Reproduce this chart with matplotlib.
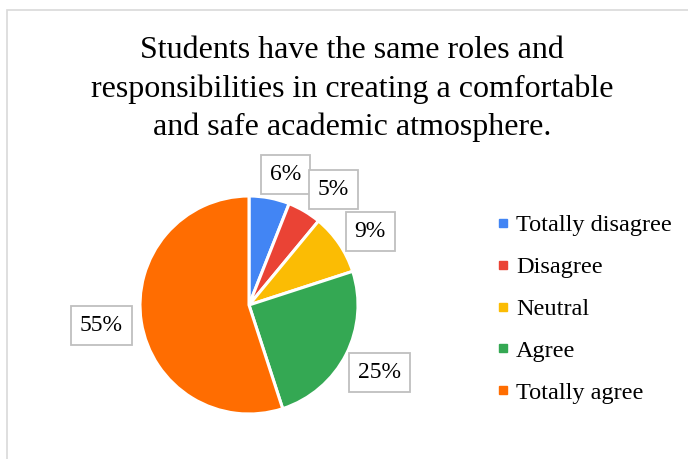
import matplotlib
matplotlib.use("Agg")
import matplotlib.pyplot as plt
import numpy as np
from matplotlib.patches import Rectangle
from matplotlib.lines import Line2D

plt.rcParams['font.family'] = ['Liberation Serif', 'DejaVu Serif']

# survey answers
categories = ['Totally disagree', 'Disagree', 'Neutral', 'Agree', 'Totally agree']
shares = [6, 5, 9, 25, 55]
colors = ['#4285F4', '#EA4335', '#FBBC04', '#34A853', '#FF6D01']
title = ('Students have the same roles and\n'
         'responsibilities in creating a comfortable\n'
         'and safe academic atmosphere.')

# callout placement (radius in pie units, angle shift in degrees)
label_r = [1.24, 1.31, 1.30, 1.35, 1.37]
label_shift = [-5, -5.5, -3, -0.5, -1]

W, H = 688, 459
fig = plt.figure(figsize=(W / 100, H / 100), dpi=100)

# outer chart frame (only left and top edges are in view)
fig.patches.append(Rectangle((7 / W, -0.05), 1.2, 1.05 - 10 / H, transform=fig.transFigure,
                             facecolor='none', edgecolor='#D9D9D9', linewidth=1.2))

cx, cy, R = 249, H - 305, 109
half = 160
ax = fig.add_axes([(cx - half) / W, (cy - half) / H, 2 * half / W, 2 * half / H])

wedges, _ = ax.pie(shares, colors=colors, startangle=90, counterclock=False,
                   radius=1.0, wedgeprops=dict(edgecolor='white', linewidth=2.2))
lim = half / R
ax.set_xlim(-lim, lim)
ax.set_ylim(-lim, lim)
ax.set_aspect('equal')
ax.axis('off')

for w, val, r, sh in zip(wedges, shares, label_r, label_shift):
    mid = np.deg2rad((w.theta1 + w.theta2) / 2 + sh)
    x, y = r * np.cos(mid), r * np.sin(mid)
    ax.text(x, y, f'{val}%', ha='center', va='center', fontsize=17, color='#000000',
            bbox=dict(boxstyle='square,pad=0.38', facecolor='white', edgecolor='#BFBFBF',
                      linewidth=1.3), zorder=5)
    # small pointer from box toward the slice
    amid = np.deg2rad((w.theta1 + w.theta2) / 2)
    px, py = 1.03 * np.cos(amid), 1.03 * np.sin(amid)
    bx, by = x + (px - x) * 0.6, y + (py - y) * 0.6
    ax.plot([bx, px * 0.25 + bx * 0.75], [by, py * 0.25 + by * 0.75], color='#BFBFBF',
            linewidth=1.3, zorder=4)

fig.text(352 / W, 1 - 89 / H, title, ha='center', va='center', fontsize=23,
         linespacing=1.4, color='#000000')

handles = [Line2D([0], [0], marker='s', linestyle='none', markersize=5.5,
                  markerfacecolor=c, markeredgecolor=c) for c in colors]
fig.legend(handles, categories, loc='center left', bbox_to_anchor=(487 / W, 1 - 309 / H),
           frameon=False, fontsize=17.5, handlelength=0.5, handletextpad=0.3,
           labelspacing=0.82, borderaxespad=0)

fig.savefig('out.png', dpi=100, facecolor='white')
